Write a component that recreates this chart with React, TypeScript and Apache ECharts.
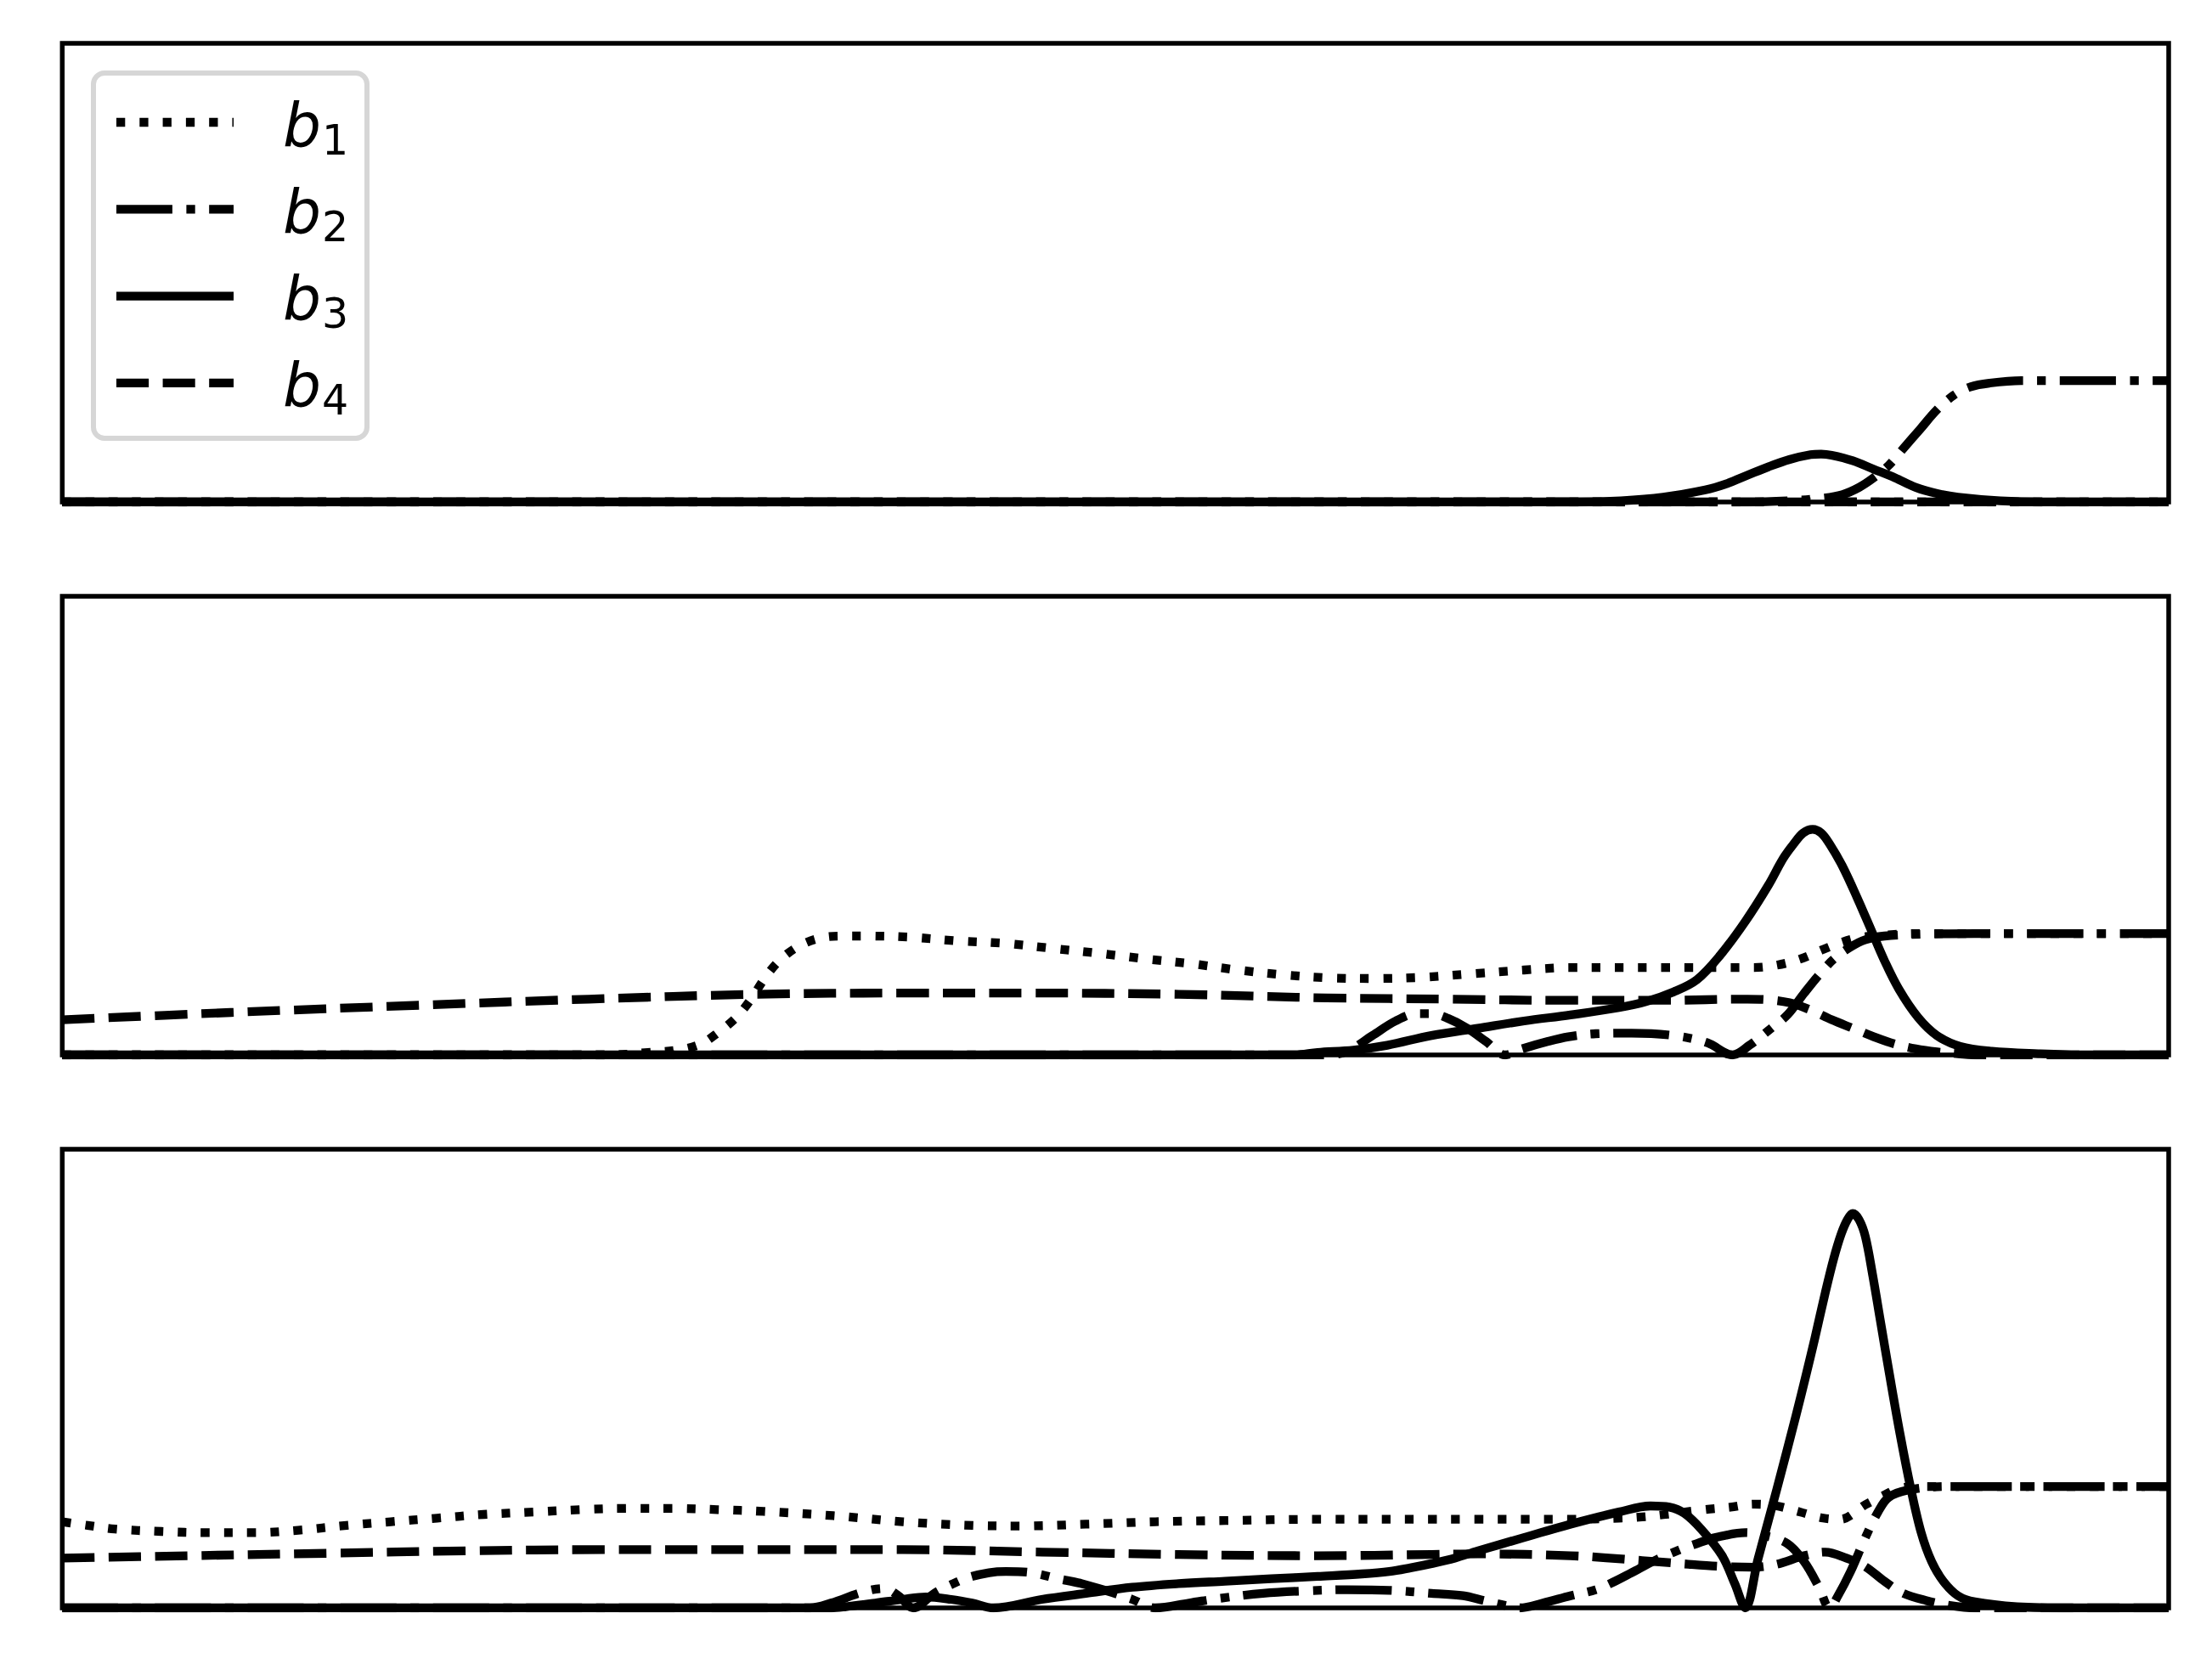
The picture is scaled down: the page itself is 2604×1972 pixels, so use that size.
import React, { useEffect, useRef } from "react";
import * as echarts from "echarts";

// ---- data (x: 0..100 across the axis, y: plateau of b2 = 1) ----
const seriesNames = ["b1", "b2", "b3", "b4"];
const legendSubscripts = ["1", "2", "3", "4"];

const p1B1 = [[0, 0], [100, 0]];
const p1B2 = [[0, 0], [80, 0], [82, 0.01], [83.5, 0.03], [84.5, 0.06], [85.3, 0.12], [86, 0.2], [86.7, 0.3], [87.4, 0.44], [88.2, 0.6], [89, 0.76], [89.8, 0.88], [90.6, 0.95], [91.5, 0.98], [93, 1], [100, 1]];
const p1B3 = [[0, 0], [72, 0], [74, 0.01], [76, 0.04], [78, 0.1], [79, 0.15], [80, 0.22], [81, 0.29], [82, 0.35], [83, 0.39], [83.5, 0.395], [84, 0.385], [85, 0.34], [86, 0.27], [87, 0.2], [88, 0.12], [89, 0.07], [90, 0.04], [92, 0.01], [94, 0], [100, 0]];
const p1B4 = [[0, 0], [100, 0]];

const p2B1 = [[0, 0], [26, 0], [27.8, 0.02], [29.2, 0.04], [30.3, 0.09], [31.1, 0.18], [32, 0.31], [32.7, 0.46], [33.3, 0.62], [34, 0.77], [34.9, 0.89], [35.9, 0.96], [37, 0.98], [38.2, 0.98], [40.3, 0.97], [42.5, 0.94], [44.7, 0.92], [46.9, 0.88], [49.1, 0.84], [51.5, 0.79], [53.7, 0.75], [55.8, 0.7], [58, 0.66], [60.2, 0.635], [62.4, 0.63], [64.6, 0.64], [67, 0.67], [69.4, 0.7], [71.6, 0.72], [76, 0.72], [80.3, 0.72], [81.4, 0.74], [82.5, 0.79], [83.6, 0.87], [84.5, 0.93], [85.4, 0.97], [86.7, 0.99], [88, 1], [100, 1]];
const p2B2 = [[0, 0], [60, 0], [61, 0.03], [62.2, 0.16], [63.3, 0.28], [64.3, 0.34], [65, 0.34], [65.8, 0.3], [66.7, 0.22], [67.6, 0.11], [68.5, 0], [68.5, 0], [69.3, 0.05], [70.5, 0.11], [71.5, 0.15], [72.8, 0.175], [74.5, 0.18], [76.5, 0.16], [78.1, 0.1], [79.3, 0], [79.3, 0], [80.1, 0.08], [81.2, 0.23], [81.9, 0.33], [82.7, 0.51], [83.4, 0.66], [84.1, 0.79], [84.9, 0.89], [85.6, 0.95], [86.5, 0.98], [88.3, 0.995], [90.8, 1], [100, 1]];
const p2B3 = [[0, 0], [58.5, 0], [59.6, 0.02], [61.3, 0.04], [62.9, 0.08], [65, 0.16], [67.2, 0.22], [69.4, 0.28], [71.6, 0.33], [73.9, 0.39], [75.2, 0.44], [76.5, 0.52], [77.6, 0.62], [78.7, 0.82], [79.9, 1.1], [81, 1.4], [81.7, 1.62], [82.2, 1.74], [82.65, 1.83], [83.1, 1.86], [83.5, 1.83], [83.9, 1.74], [84.5, 1.56], [85.2, 1.3], [85.9, 1.02], [86.5, 0.78], [87.2, 0.54], [88.1, 0.31], [89, 0.16], [90.1, 0.07], [91.6, 0.03], [93.8, 0.01], [96, 0], [100, 0]];
const p2B4 = [[0, 0.29], [8, 0.35], [17, 0.41], [25, 0.46], [33, 0.5], [40, 0.51], [46, 0.51], [53, 0.5], [60, 0.47], [66, 0.46], [71, 0.45], [76, 0.45], [80, 0.46], [81, 0.455], [82, 0.43], [83, 0.37], [84, 0.29], [85, 0.22], [86, 0.15], [87, 0.09], [88, 0.05], [89, 0.025], [90, 0.01], [91, 0], [100, 0]];

const p3B1 = [[0, 0.71], [1.2, 0.68], [2.5, 0.65], [4.7, 0.63], [6.9, 0.62], [9.1, 0.62], [11.2, 0.64], [13.5, 0.68], [15.6, 0.71], [17.8, 0.74], [20, 0.77], [22.4, 0.79], [24.6, 0.81], [26.8, 0.82], [29, 0.82], [31.1, 0.81], [33.3, 0.795], [36.6, 0.76], [39.9, 0.71], [43.2, 0.68], [45.6, 0.675], [48.6, 0.69], [51.9, 0.71], [55.2, 0.72], [59.6, 0.73], [67.2, 0.73], [71.6, 0.73], [73.9, 0.74], [75, 0.75], [76.1, 0.77], [78, 0.81], [79.2, 0.83], [80.3, 0.855], [81.4, 0.84], [82.5, 0.79], [83.6, 0.74], [84.4, 0.73], [85.6, 0.85], [86.5, 0.93], [87.2, 0.985], [88.1, 1], [100, 1]];
const p3B2 = [[0, 0], [35.5, 0], [36.5, 0.04], [38, 0.13], [39, 0.16], [39.7, 0.1], [40.4, 0], [40.4, 0], [41.4, 0.12], [42.3, 0.2], [43, 0.25], [44, 0.29], [44.8, 0.3], [46, 0.29], [47.3, 0.24], [48.4, 0.2], [49.6, 0.14], [50.8, 0.07], [51.9, 0], [51.9, 0], [53.5, 0.04], [55, 0.08], [57, 0.12], [59, 0.14], [61, 0.15], [63, 0.145], [65, 0.12], [66.5, 0.1], [67.5, 0.06], [68.5, 0.02], [69.2, 0], [69.2, 0], [70.3, 0.04], [71.6, 0.1], [72.8, 0.15], [73.6, 0.21], [74.5, 0.29], [75.6, 0.39], [76.8, 0.48], [77.6, 0.53], [78.5, 0.58], [79.9, 0.62], [80.7, 0.6], [81.9, 0.53], [82.7, 0.38], [83.4, 0.17], [83.9, 0], [83.9, 0], [84.3, 0.1], [84.9, 0.3], [85.6, 0.58], [86.2, 0.79], [86.7, 0.91], [87.6, 0.97], [89.5, 1], [100, 1]];
const p3B3 = [[0, 0], [36.5, 0], [37.2, 0.01], [38.6, 0.04], [39.9, 0.07], [41, 0.09], [42.2, 0.07], [43.2, 0.04], [44.2, 0], [44.2, 0], [46.5, 0.07], [48.6, 0.12], [50.8, 0.17], [53, 0.2], [55.2, 0.22], [57.4, 0.24], [59.6, 0.26], [61.7, 0.28], [63, 0.3], [64, 0.33], [65, 0.365], [66.1, 0.41], [67.2, 0.47], [69.4, 0.58], [71.6, 0.69], [73.9, 0.79], [75.4, 0.84], [76.3, 0.83], [77, 0.78], [77.8, 0.65], [78.8, 0.43], [79.4, 0.2], [79.9, 0], [79.9, 0], [80.5, 0.4], [81.4, 0.98], [82.3, 1.58], [82.8, 1.93], [83.2, 2.22], [83.7, 2.6], [84.1, 2.88], [84.45, 3.08], [84.75, 3.2], [85, 3.25], [85.3, 3.2], [85.6, 3.06], [85.95, 2.74], [86.3, 2.38], [86.75, 1.92], [87.25, 1.43], [87.75, 0.99], [88.25, 0.62], [88.75, 0.38], [89.3, 0.22], [90, 0.1], [90.8, 0.05], [92.8, 0.01], [95.4, 0], [100, 0]];
const p3B4 = [[0, 0.41], [6, 0.43], [12.6, 0.45], [19.1, 0.47], [25.7, 0.48], [33.3, 0.48], [39.9, 0.48], [46.5, 0.46], [53, 0.44], [59.6, 0.43], [65, 0.44], [67.2, 0.445], [71.6, 0.43], [75, 0.39], [77.2, 0.36], [79, 0.34], [80.3, 0.335], [81.4, 0.36], [82.7, 0.43], [83.7, 0.46], [84.7, 0.41], [85.6, 0.34], [86.5, 0.22], [87.4, 0.12], [88.5, 0.06], [89.6, 0.02], [90.8, 0], [100, 0]];

const panels = [
  [p1B1, p1B2, p1B3, p1B4],
  [p2B1, p2B2, p2B3, p2B4],
  [p3B1, p3B2, p3B3, p3B4],
];

const X_MIN = 0;
const X_MAX = 100;
const Y_MIN = 0;
const Y_MAX = 3.78;

// ---- styling ----
const LW = 10.3;
const dashPatterns: (number[] | null)[] = [
  [LW * 1, LW * 1.65],
  [LW * 6.4, LW * 1.6, LW * 1, LW * 1.6],
  null,
  [LW * 3.7, LW * 1.6],
];
const GRID_TOPS = [51, 702, 1353];
const GRID_H = 540;
const GRID_LEFT = 73.3;
const GRID_RIGHT = 51;

function buildOption() {
  const grid = GRID_TOPS.map((t) => ({
    show: true,
    left: GRID_LEFT,
    right: GRID_RIGHT,
    top: t,
    height: GRID_H,
    borderColor: "#000",
    borderWidth: 5.5,
    backgroundColor: "transparent",
    containLabel: false,
  }));
  const xAxis = GRID_TOPS.map((_, i) => ({
    type: "value",
    gridIndex: i,
    min: X_MIN,
    max: X_MAX,
    axisLine: { show: false },
    axisTick: { show: false },
    axisLabel: { show: false },
    splitLine: { show: false },
  }));
  const yAxis = GRID_TOPS.map((_, i) => ({
    type: "value",
    gridIndex: i,
    min: Y_MIN,
    max: Y_MAX,
    axisLine: { show: false },
    axisTick: { show: false },
    axisLabel: { show: false },
    splitLine: { show: false },
  }));
  const series: any[] = [];
  panels.forEach((panel, p) => {
    panel.forEach((data, s) => {
      const dash = dashPatterns[s];
      series.push({
        type: "line",
        name: seriesNames[s],
        xAxisIndex: p,
        yAxisIndex: p,
        data,
        symbol: "none",
        smooth: 0.35,
        silent: true,
        clip: true,
        lineStyle: {
          color: "#000",
          width: LW,
          type: dash ? dash : "solid",
          cap: "butt",
          join: "round",
        },
        emphasis: { disabled: true },
      });
    });
  });

  // legend drawn as graphic elements (matplotlib style)
  const rowY0 = 144;
  const rowGap = 102.3;
  const legendChildren: any[] = [
    {
      type: "rect",
      shape: { x: 110, y: 86, width: 322, height: 430, r: 13 },
      style: { fill: "#ffffff", stroke: "#d6d6d6", lineWidth: 6 },
    },
  ];
  seriesNames.forEach((n, i) => {
    const y = rowY0 + rowGap * i;
    const dash = dashPatterns[i];
    legendChildren.push({
      type: "line",
      shape: { x1: 137, y1: y, x2: 275, y2: y },
      style: {
        stroke: "#000",
        lineWidth: LW,
        lineDash: dash ? dash : null,
        lineCap: "butt",
      },
    });
    legendChildren.push({
      type: "text",
      x: 333,
      y: y + 3,
      style: {
        text: "b",
        fontSize: 71,
        fontFamily: "DejaVu Sans",
        fontStyle: "italic",
        fill: "#000",
        verticalAlign: "middle",
        align: "left",
      },
    });
    legendChildren.push({
      type: "text",
      x: 379,
      y: y + 21,
      style: {
        text: legendSubscripts[i],
        fontSize: 49,
        fontFamily: "DejaVu Sans",
        fill: "#000",
        verticalAlign: "middle",
        align: "left",
      },
    });
  });

  return {
    animation: false,
    backgroundColor: "#ffffff",
    grid,
    xAxis,
    yAxis,
    series,
    graphic: [{ type: "group", z: 100, children: legendChildren }],
  };
}

export default function App() {
  const ref = useRef<HTMLDivElement>(null);
  useEffect(() => {
    if (!ref.current) return;
    const chart = echarts.init(ref.current, null, { renderer: "svg" });
    chart.setOption(buildOption() as any);
    return () => chart.dispose();
  }, []);
  return (
    <div
      ref={ref}
      style={{
        position: "absolute",
        left: 0,
        top: 0,
        width: "2604px",
        height: "1972px",
        background: "#fff",
      }}
    />
  );
}
